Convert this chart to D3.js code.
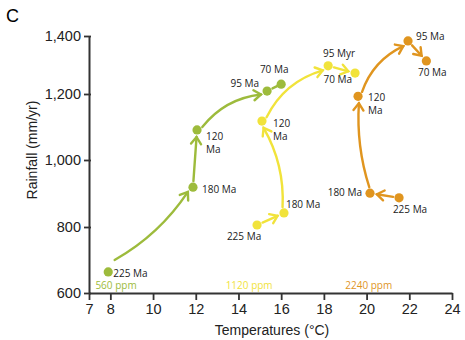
<!DOCTYPE html>
<html>
<head>
<meta charset="utf-8">
<script src="https://cdn.jsdelivr.net/npm/d3@7"></script>
<style>
  body { margin: 0; background: #fff; }
  svg { display: block; }
  .tick text { font-family: "Liberation Sans", Arial, sans-serif; font-size: 14.5px; fill: #222; }
  .lbl { font-family: "Open Sans", sans-serif; font-size: 10px; fill: #222; }
</style>
</head>
<body>
<svg id="chart" width="465" height="340"></svg>
<script>
// values
var ppmLabels = ["560 ppm", "1120 ppm", "2240 ppm"]
var ppmTemp = [7.3, 13.4, 19.0]
var colors = ["#9dbb3c", "#f1e33b", "#e0951f"]

var greenAges = ["225 Ma", "180 Ma", "120 Ma", "95 Ma", "70 Ma"]
var greenTemp = [7.9, 11.87, 12.06, 15.34, 16.0]
var greenRain = [664, 919, 1091, 1210, 1234]
var greenTail = [8.2, 700] // where the first green arrow starts

var yellowAges = ["225 Ma", "180 Ma", "120 Ma", "95 Myr", "70 Ma"]
var yellowTemp = [14.87, 16.13, 15.1, 18.2, 19.46]
var yellowRain = [806, 842, 1118, 1297, 1272]

var orangeAges = ["225 Ma", "180 Ma", "120 Ma", "95 Ma", "70 Ma"]
var orangeTemp = [21.52, 20.16, 19.6, 21.94, 22.8]
var orangeRain = [887, 901, 1193, 1383, 1314]

var xTicks = [7, 8, 10, 12, 14, 16, 18, 20, 22, 24]
var yTicks = [600, 800, 1000, 1200, 1400]

var svg = d3.select("#chart")

// the printed y axis is not evenly spaced, so map each tick
var x = d3.scaleLinear().domain([7, 24]).range([89, 452])
var y = d3.scaleLinear().domain(yTicks).range([293, 227, 160, 94, 36])

// axes
var ax = svg.append("g").attr("transform", "translate(0,293)")
  .call(d3.axisBottom(x).tickValues(xTicks).tickSize(7).tickPadding(2).tickSizeOuter(0))
var ay = svg.append("g").attr("transform", "translate(89,0)")
  .call(d3.axisLeft(y).tickValues(yTicks).tickSize(5).tickPadding(3).tickFormat(d3.format(",")).tickSizeOuter(0))
ax.select(".domain").attr("stroke", "#333").attr("stroke-width", 2)
ay.select(".domain").attr("stroke", "#333").attr("stroke-width", 2)
ax.selectAll(".tick line").attr("stroke", "#333").attr("stroke-width", 1.8)
ay.selectAll(".tick line").attr("stroke", "#333").attr("stroke-width", 1.8).attr("x2", 2).attr("x1", -5)
ax.selectAll(".tick text").attr("dy", "0.85em")

svg.append("text").attr("x", 6).attr("y", 22)
  .style("font-family", "Liberation Sans, Arial").style("font-size", "18px").text("C")
svg.append("text").attr("x", 272).attr("y", 335).attr("text-anchor", "middle")
  .style("font-family", "Liberation Sans, Arial").style("font-size", "14px").style("fill", "#222")
  .text("Temperatures (\u00B0C)")
svg.append("text").attr("transform", "translate(37,150) rotate(-90)").attr("text-anchor", "middle")
  .style("font-family", "Liberation Sans, Arial").style("font-size", "14px").style("fill", "#222")
  .text("Rainfall (mm/yr)")

// ppm labels along the x axis
svg.selectAll(".ppm").data(ppmLabels).join("text")
  .attr("class", "lbl")
  .attr("x", function(d, i) { return x(ppmTemp[i]) })
  .attr("y", 289)
  .style("fill", function(d, i) { return colors[i] })
  .text(function(d) { return d })

// curved arrow between two pixel points, bend = offset of the control point
function drawArrow(g, p0, p1, bend, head, color, trimStart, trimEnd) {
  var dx = p1[0] - p0[0], dy = p1[1] - p0[1]
  var len = Math.sqrt(dx * dx + dy * dy)
  var ux = dx / len, uy = dy / len
  var a = [p0[0] + ux * trimStart, p0[1] + uy * trimStart]
  var b = [p1[0] - ux * trimEnd, p1[1] - uy * trimEnd]
  var c = [(a[0] + b[0]) / 2 - uy * bend, (a[1] + b[1]) / 2 + ux * bend]
  var p = d3.path()
  p.moveTo(a[0], a[1])
  p.quadraticCurveTo(c[0], c[1], b[0], b[1])
  g.append("path").attr("d", p.toString()).attr("fill", "none")
    .attr("stroke", color).attr("stroke-width", 2.4).attr("stroke-linecap", "round")
  if (head) {
    var tx = b[0] - c[0], ty = b[1] - c[1]
    var ang = Math.atan2(ty, tx) * 180 / Math.PI
    g.append("path").attr("d", "M-7,-5L0,0L-7,5")
      .attr("transform", "translate(" + b[0] + "," + b[1] + ") rotate(" + ang + ")")
      .attr("fill", "none").attr("stroke", color).attr("stroke-width", 2.4)
      .attr("stroke-linejoin", "miter").attr("stroke-linecap", "round")
  }
}

// arrows: [from, to, bend, head]   labels: [dx, dy, anchor, line gap]
var series = [
  { temp: greenTemp, rain: greenRain, ages: greenAges, color: colors[0],
    arrows: [[-1, 1, 12, true], [1, 2, 0, true], [2, 3, -14, true], [3, 4, 0, false]],
    labels: [[5, 5, "start"], [9, 6, "start"], [9, 10, "start", 13], [-8, -4, "end"], [-7, -11, "middle"]] },
  { temp: yellowTemp, rain: yellowRain, ages: yellowAges, color: colors[1],
    arrows: [[0, 1, 0, true], [1, 2, 12, true], [2, 3, -16, true], [3, 4, 0, true]],
    labels: [[-13, 15, "middle"], [2, -5, "start"], [11, 6, "start", 13], [11, -9, "middle"], [-3, 10, "end"]] },
  { temp: orangeTemp, rain: orangeRain, ages: orangeAges, color: colors[2],
    arrows: [[0, 1, 0, true], [1, 2, -8, true], [2, 3, -13, true], [3, 4, 0, true]],
    labels: [[11, 15, "middle"], [-8, 3, "end"], [10, 5, "start", 13], [8, -1, "start"], [6, 15, "middle"]] }
]

series.forEach(function(s) {
  var g = svg.append("g")
  var pts = s.temp.map(function(t, i) { return [x(t), y(s.rain[i])] })
  s.arrows.forEach(function(a) {
    var from = a[0] < 0 ? [x(greenTail[0]), y(greenTail[1])] : pts[a[0]]
    var t0 = a[0] < 0 ? 0 : 6
    var t1 = a[3] ? 7 : 4
    drawArrow(g, from, pts[a[1]], a[2], a[3], s.color, t0, t1)
  })
  g.selectAll("circle").data(pts).join("circle")
    .attr("cx", function(d) { return d[0] })
    .attr("cy", function(d) { return d[1] })
    .attr("r", 4.6)
    .attr("fill", s.color)
  s.ages.forEach(function(age, i) {
    var l = s.labels[i]
    var t = g.append("text").attr("class", "lbl")
      .attr("text-anchor", l[2])
      .attr("x", pts[i][0] + l[0]).attr("y", pts[i][1] + l[1])
    if (l[3]) {
      var parts = age.split(" ")
      t.append("tspan").text(parts[0])
      t.append("tspan").attr("x", pts[i][0] + l[0]).attr("dy", l[3]).text(parts[1])
    } else {
      t.text(age)
    }
  })
})
</script>
</body>
</html>
